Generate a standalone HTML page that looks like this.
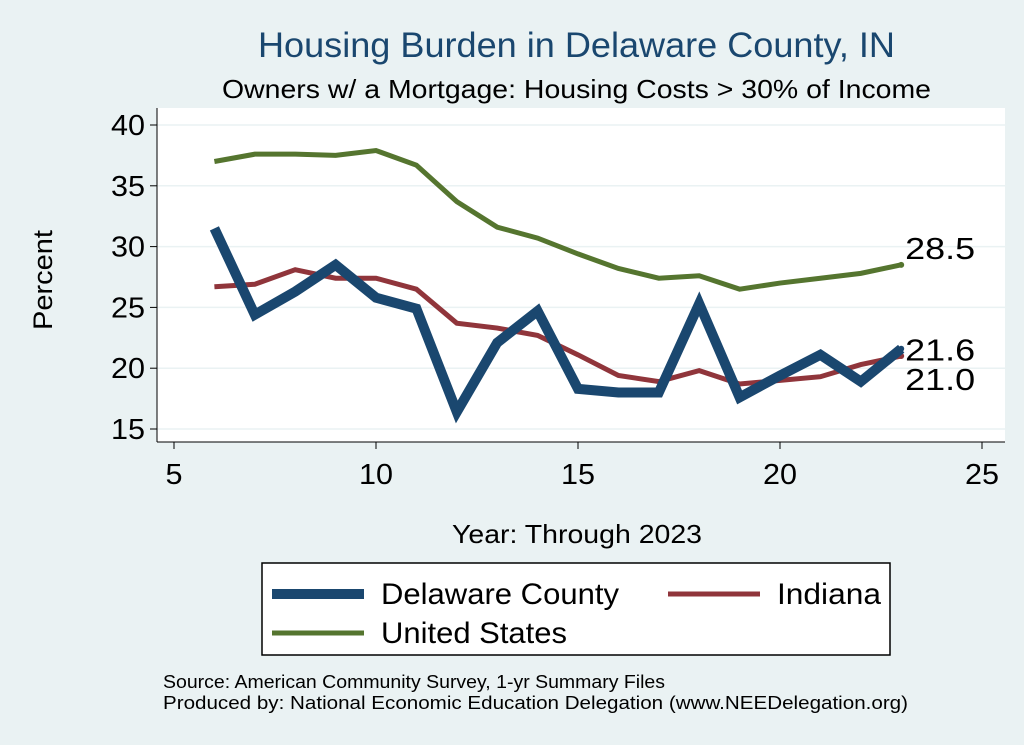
<!DOCTYPE html>
<html><head><meta charset="utf-8"><style>
body{margin:0;background:#eaf2f3;}
svg{display:block;font-family:"Liberation Sans",sans-serif;}
</style></head><body>
<svg id="chart" width="1024" height="745" viewBox="0 0 1024 745">
<rect width="1024" height="745" fill="#eaf2f3"/>
<text x="258" y="57" font-size="35" fill="#1a476f" textLength="637" lengthAdjust="spacingAndGlyphs">Housing Burden in Delaware County, IN</text>
<text x="222" y="98" font-size="26" fill="#000" textLength="709" lengthAdjust="spacingAndGlyphs">Owners w/ a Mortgage: Housing Costs &gt; 30% of Income</text>
<rect x="157" y="108" width="848" height="334" fill="#fff"/>
<g id="grid"></g><g id="axes"></g><g id="series"></g>
<text x="52" y="280" font-size="27" text-anchor="middle" textLength="100" lengthAdjust="spacingAndGlyphs" transform="rotate(-90 52 280)">Percent</text>
<text x="452" y="543" font-size="26" textLength="250" lengthAdjust="spacingAndGlyphs">Year: Through 2023</text>
<g>
<rect x="262" y="563" width="628" height="92" fill="#fff" stroke="#000" stroke-width="1.5"/>
<line x1="272" y1="594" x2="364" y2="594" stroke="#1a476f" stroke-width="10"/>
<text x="381" y="604" font-size="30" textLength="238" lengthAdjust="spacingAndGlyphs">Delaware County</text>
<line x1="668" y1="594" x2="760" y2="594" stroke="#90353b" stroke-width="5"/>
<text x="777" y="604" font-size="30" textLength="104" lengthAdjust="spacingAndGlyphs">Indiana</text>
<line x1="272" y1="633" x2="364" y2="633" stroke="#55752f" stroke-width="5"/>
<text x="381" y="643" font-size="30" textLength="186" lengthAdjust="spacingAndGlyphs">United States</text>
</g>
<text x="163" y="688" font-size="18" textLength="502" lengthAdjust="spacingAndGlyphs">Source: American Community Survey, 1-yr Summary Files</text>
<text x="163" y="709" font-size="18" textLength="745" lengthAdjust="spacingAndGlyphs">Produced by: National Economic Education Delegation (www.NEEDelegation.org)</text>
</svg>
<script>
const years=[6,7,8,9,10,11,12,13,14,15,16,17,18,19,20,21,22,23];
const delaware=[31.5,24.4,26.3,28.5,25.8,24.9,16.4,22.1,24.7,18.3,18.0,18.0,25.3,17.6,19.4,21.1,18.9,21.6];
const indiana=[26.7,26.9,28.1,27.4,27.4,26.5,23.7,23.3,22.7,21.1,19.4,18.9,19.8,18.7,19.0,19.3,20.3,21.0];
const us=[37.0,37.6,37.6,37.5,37.9,36.7,33.7,31.6,30.7,29.4,28.2,27.4,27.6,26.5,27.0,27.4,27.8,28.5];
const xTicks=[5,10,15,20,25];
const yTicks=[15,20,25,30,35,40];
const NS="http://www.w3.org/2000/svg";
const X=v=>174+(v-5)*40.4;
const Y=v=>429-(v-15)*12.16;
function mk(tag,attrs,parent){const e=document.createElementNS(NS,tag);for(const k in attrs)e.setAttribute(k,attrs[k]);parent.appendChild(e);return e;}
const grid=document.getElementById('grid'),axes=document.getElementById('axes'),ser=document.getElementById('series');
mk('line',{x1:157,y1:108,x2:157,y2:442,stroke:'#000','stroke-width':1},axes);
mk('line',{x1:157,y1:442,x2:1005,y2:442,stroke:'#000','stroke-width':1},axes);
yTicks.forEach(t=>{
 const g=mk('line',{x1:157,y1:Y(t),x2:1005,y2:Y(t),stroke:'#eaf2f3','stroke-width':1.5},grid);
 
 
 mk('line',{x1:150,y1:Y(t),x2:157,y2:Y(t),stroke:'#000'},axes);
 const tx=mk('text',{x:145,y:Y(t)+10,'font-size':29,'text-anchor':'end',textLength:34,lengthAdjust:'spacingAndGlyphs'},axes);
 tx.textContent=t;
 
 
});
xTicks.forEach(t=>{
 mk('line',{x1:X(t),y1:442,x2:X(t),y2:449,stroke:'#000'},axes);
 const s=String(t);
 const tx=mk('text',{x:X(t),y:484,'font-size':29,'text-anchor':'middle',textLength:s.length*17,lengthAdjust:'spacingAndGlyphs'},axes);
 tx.textContent=t;
 
 
});
function line(vals,color,w,name){
 const p=mk('polyline',{points:vals.map((v,i)=>X(years[i])+','+Y(v)).join(' '),fill:'none',stroke:color,'stroke-width':w,'stroke-linejoin':'miter'},ser);
 
 
 const n=vals.length-1;
 mk('circle',{cx:X(years[n]),cy:Y(vals[n]),r:3,fill:color},ser);
}
line(us,'#55752f',5,'line-united-states');
line(indiana,'#90353b',5,'line-indiana');
line(delaware,'#1a476f',10,'line-delaware-county');
function lab(v,dy,name){
 const t=mk('text',{x:X(23)+4,y:Y(v)+dy,'font-size':31,textLength:70,lengthAdjust:'spacingAndGlyphs'},ser);
 t.textContent=v.toFixed(1);
 
 
}
lab(us[us.length-1],-6,'label-us-end');
lab(delaware[delaware.length-1],12,'label-delaware-end');
lab(indiana[indiana.length-1],34,'label-indiana-end');
</script>
</body></html>
